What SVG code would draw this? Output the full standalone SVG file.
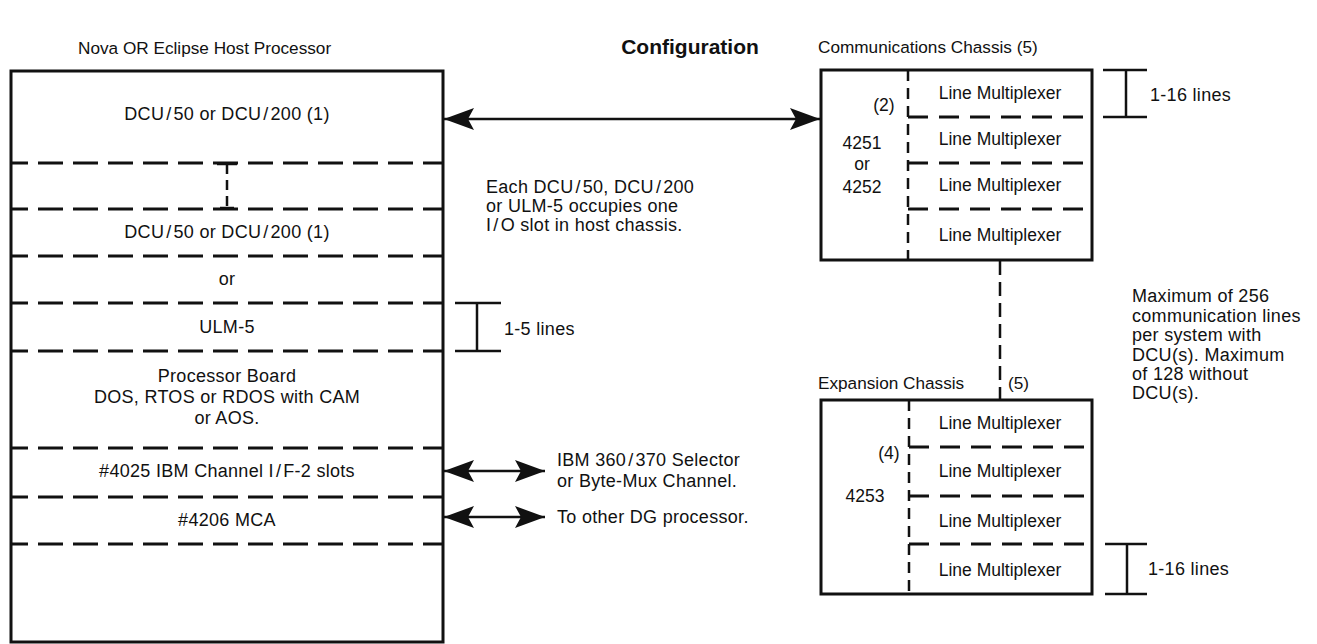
<svg xmlns="http://www.w3.org/2000/svg" width="1317" height="644" viewBox="0 0 1317 644">
<style>
text{font-family:"Liberation Sans",Arial,sans-serif;font-size:18px;letter-spacing:0.3px;fill:#111}
.c{text-anchor:middle}
.lab{font-size:17.2px;letter-spacing:0}
.lm{font-size:17.5px;letter-spacing:0}
.title{font-size:21px;font-weight:bold;letter-spacing:0}
.box{fill:none;stroke:#111;stroke-width:3}
.hd{stroke:#111;stroke-width:3;stroke-dasharray:25 10;stroke-dashoffset:8;fill:none}
.cd{stroke:#111;stroke-width:3;stroke-dasharray:20 11;fill:none}
.vd{stroke:#111;stroke-width:2.5;stroke-dasharray:11 7;fill:none}
.sol{stroke:#111;stroke-width:2.5;fill:none}
.conn{stroke:#111;stroke-width:2.5;fill:none}
</style>
<defs>
<marker id="ah" markerUnits="userSpaceOnUse" markerWidth="30" markerHeight="22" refX="30" refY="11" orient="auto-start-reverse">
<path d="M0,0 L30,11 L0,22 L6,11 z" fill="#111"/>
</marker>
</defs>
<text class="title c" x="690" y="54">Configuration</text>

<g id="host">
<text class="lab" x="78" y="54">Nova OR Eclipse Host Processor</text>
<rect class="box" x="11" y="71" width="432" height="571"/>
<line class="hd" x1="11" y1="163" x2="443" y2="163"/>
<line class="hd" x1="11" y1="209" x2="443" y2="209"/>
<line class="hd" x1="11" y1="256" x2="443" y2="256"/>
<line class="hd" x1="11" y1="303" x2="443" y2="303"/>
<line class="hd" x1="11" y1="351" x2="443" y2="351"/>
<line class="hd" x1="11" y1="448" x2="443" y2="448"/>
<line class="hd" x1="11" y1="497" x2="443" y2="497"/>
<line class="hd" x1="11" y1="544" x2="443" y2="544"/>
<text class="c" x="227" y="120">DCU<tspan dx="2">/</tspan><tspan dx="2">50 or DCU</tspan><tspan dx="2">/</tspan><tspan dx="2">200 (1)</tspan></text>
<line class="sol" x1="217" y1="164" x2="237" y2="164"/>
<line class="vd" x1="227" y1="164" x2="227" y2="208" style="stroke-dasharray:10 6"/>
<line class="sol" x1="220" y1="208" x2="234" y2="208"/>
<text class="c" x="227" y="238">DCU<tspan dx="2">/</tspan><tspan dx="2">50 or DCU</tspan><tspan dx="2">/</tspan><tspan dx="2">200 (1)</tspan></text>
<text class="c" x="227" y="285">or</text>
<text class="c" x="227" y="333">ULM-5</text>
<text class="c" x="227" y="382">Processor Board</text>
<text class="c" x="227" y="403">DOS, RTOS or RDOS with CAM</text>
<text class="c" x="227" y="424">or AOS.</text>
<text class="c" x="227" y="477">#4025 IBM Channel I<tspan dx="2">/</tspan><tspan dx="2">F-2 slots</tspan></text>
<text class="c" x="227" y="526">#4206 MCA</text>
</g>

<g id="ulm-bracket">
<line class="sol" x1="455" y1="303" x2="501" y2="303"/>
<line class="sol" x1="477" y1="303" x2="477" y2="351"/>
<line class="sol" x1="455" y1="351" x2="501" y2="351"/>
<text x="504" y="335">1-5 lines</text>
</g>

<g id="note-slot">
<text x="486" y="193">Each DCU<tspan dx="2">/</tspan><tspan dx="2">50, DCU</tspan><tspan dx="2">/</tspan><tspan dx="2">200</tspan></text>
<text x="486" y="212">or ULM-5 occupies one</text>
<text x="486" y="231">I<tspan dx="2">/</tspan><tspan dx="2">O slot in host chassis.</tspan></text>
</g>

<g id="ibm-label">
<text x="557" y="466">IBM 360<tspan dx="2">/</tspan><tspan dx="2">370 Selector</tspan></text>
<text x="557" y="487">or Byte-Mux Channel.</text>
</g>
<g id="dg-label">
<text x="557" y="523">To other DG processor.</text>
</g>

<g id="comm">
<text class="lab" x="818" y="53">Communications Chassis (5)</text>
<rect class="box" x="821" y="70" width="271" height="190"/>
<line class="vd" x1="908" y1="70" x2="908" y2="260"/>
<line class="cd" x1="908" y1="117" x2="1092" y2="117"/>
<line class="cd" x1="908" y1="163" x2="1092" y2="163"/>
<line class="cd" x1="908" y1="209" x2="1092" y2="209"/>
<text class="c lm" x="884" y="111">(2)</text>
<text class="c lm" x="862" y="149">4251</text>
<text class="c lm" x="862" y="170">or</text>
<text class="c lm" x="862" y="193">4252</text>
<text class="c lm" x="1000" y="99">Line Multiplexer</text>
<text class="c lm" x="1000" y="145">Line Multiplexer</text>
<text class="c lm" x="1000" y="191">Line Multiplexer</text>
<text class="c lm" x="1000" y="241">Line Multiplexer</text>
<line class="sol" x1="1103" y1="70" x2="1147" y2="70"/>
<line class="sol" x1="1126" y1="70" x2="1126" y2="117"/>
<line class="sol" x1="1103" y1="117" x2="1147" y2="117"/>
<text x="1150" y="101">1-16 lines</text>
</g>

<g id="note-max">
<text x="1132" y="302">Maximum of 256</text>
<text x="1132" y="322">communication lines</text>
<text x="1132" y="341">per system with</text>
<text x="1132" y="361">DCU(s). Maximum</text>
<text x="1132" y="380">of 128 without</text>
<text x="1132" y="399">DCU(s).</text>
</g>

<g id="expansion">
<text class="lab" x="818" y="389">Expansion Chassis</text>
<text class="lab" x="1008" y="389">(5)</text>
<rect class="box" x="821" y="400" width="271" height="194"/>
<line class="vd" x1="909" y1="400" x2="909" y2="594"/>
<line class="cd" x1="909" y1="447" x2="1092" y2="447"/>
<line class="cd" x1="909" y1="496" x2="1092" y2="496"/>
<line class="cd" x1="909" y1="544" x2="1092" y2="544"/>
<text class="c lm" x="889" y="459">(4)</text>
<text class="c lm" x="865" y="502">4253</text>
<text class="c lm" x="1000" y="429">Line Multiplexer</text>
<text class="c lm" x="1000" y="477">Line Multiplexer</text>
<text class="c lm" x="1000" y="527">Line Multiplexer</text>
<text class="c lm" x="1000" y="576">Line Multiplexer</text>
<line class="sol" x1="1105" y1="544" x2="1147" y2="544"/>
<line class="sol" x1="1127" y1="544" x2="1127" y2="594"/>
<line class="sol" x1="1105" y1="594" x2="1147" y2="594"/>
<text x="1148" y="575">1-16 lines</text>
</g>

<g id="connectors">
<line class="conn" x1="444" y1="119" x2="820" y2="119" marker-start="url(#ah)" marker-end="url(#ah)"/>
<line class="conn" x1="444" y1="471" x2="545" y2="471" marker-start="url(#ah)" marker-end="url(#ah)"/>
<line class="conn" x1="444" y1="517" x2="545" y2="517" marker-start="url(#ah)" marker-end="url(#ah)"/>
<line class="vd" x1="1000" y1="261" x2="1000" y2="399" style="stroke-dasharray:14 7"/>
</g>
</svg>
